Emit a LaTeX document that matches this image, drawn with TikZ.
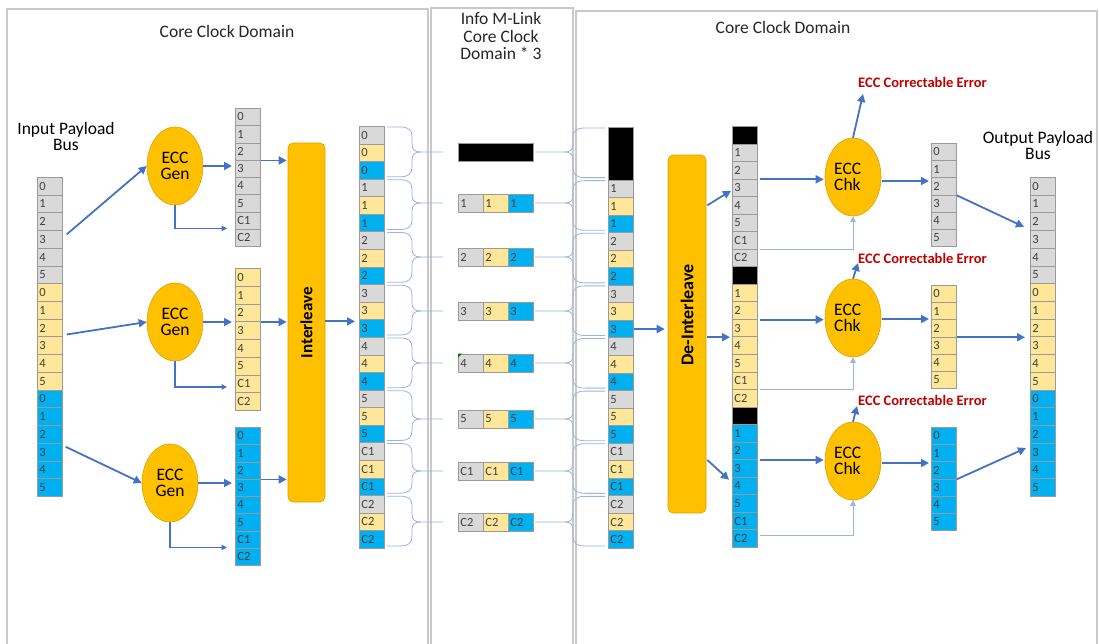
\documentclass[tikz,border=0pt]{standalone}
\usepackage{fontspec}
\setmainfont{Carlito}
\usetikzlibrary{arrows.meta,shapes.geometric,calc}
\definecolor{cgray}{HTML}{D9D9D9}
\definecolor{cyel}{HTML}{FFE699}
\definecolor{cblue}{HTML}{00B0F0}
\definecolor{cborder}{HTML}{9A9A9A}
\definecolor{ctext}{HTML}{404040}
\definecolor{corange}{HTML}{FFC000}
\definecolor{corangeb}{HTML}{D9A300}
\definecolor{ablue}{HTML}{4472C4}
\definecolor{lblue}{HTML}{9DB4E0}
\definecolor{ered}{HTML}{C00000}
\definecolor{panel}{HTML}{C9C9C9}
\newcommand{\fs}[1]{\fontsize{#1}{#1}\selectfont}
\begin{document}
\begin{tikzpicture}[x=1pt,y=-1pt,
  cellb/.style={draw=cborder, line width=0.7pt, minimum width=25pt, text width=21pt, align=left, inner xsep=2pt, inner ysep=0pt, anchor=north west, font=\fs{12.5}, text=ctext},
  gy/.style={fill=cgray}, yl/.style={fill=cyel}, bl/.style={fill=cblue}, bk/.style={fill=black},
  arr/.style={draw=ablue, line width=1.8pt, -{Triangle[length=8pt,width=8pt]}},
  tarr/.style={draw=ablue, line width=1.1pt, -{Triangle[length=5.5pt,width=5.5pt]}},
  larr/.style={draw=lblue, line width=1pt, -{Triangle[length=5.5pt,width=5.5pt]}},
  lbrace/.style={draw=lblue, line width=0.8pt},
  ecc/.style={ellipse, fill=corange, draw=corangeb, line width=0.6pt, minimum width=56pt, minimum height=78pt, inner sep=0pt, font=\fontsize{17.5}{16}\selectfont, align=center},
  orbar/.style={rounded corners=5pt, fill=corange, draw=corangeb, line width=0.6pt, inner sep=0pt},
  lbl/.style={font=\fontsize{17.5}{16}\selectfont, align=center, inner sep=0pt},
  hdr/.style={font=\fontsize{17.5}{17.5}\selectfont, align=center, inner sep=0pt, text=black!85},
  err/.style={font=\bfseries\fs{14.5}, text=ered, anchor=west, inner sep=0pt},
  panelb/.style={draw=panel, line width=2pt}
]
\useasboundingbox[fill=white] (0,0) rectangle (1099,643);

% panels
\draw[panelb] (7,650) -- (7,9) -- (428,9) -- (428,650);
\draw[panelb] (431,650) -- (431,8) -- (573,8) -- (573,650);
\draw[panelb] (576,650) -- (576,11) -- (1097,11) -- (1097,650);

% headers
\node[hdr] (h1) at (227,31) {Core Clock Domain};
\node[hdr] (h2) at (501,36) {Info M-Link\\Core Clock\\Domain * 3};
\node[hdr] (h3) at (783,27) {Core Clock Domain};
\node[lbl] (inl) at (66,136) {Input Payload\\Bus};
\node[lbl] (outl) at (1038,145) {Output Payload\\Bus};

% input bus and output bus
\foreach \sty [count=\k from 0] in {gy,yl,bl} {
  \foreach \lab [count=\j from 1] in {0,1,2,3,4,5} {
    \pgfmathtruncatemacro\idx{\k*6+\j}
    \node[cellb,\sty,minimum height=17.72pt] (in-\idx) at (37,{177+(\idx-1)*17.72}) {\lab};
    \node[cellb,\sty,minimum height=17.72pt] (out-\idx) at (1030,{177+(\idx-1)*17.72}) {\lab};
  }
}

% ECC generator columns
\foreach \sty/\y/\h [count=\k] in {gy/108/17.25,yl/268/17.75,bl/427/17.25} {
  \foreach \lab [count=\j] in {0,1,2,3,4,5,C1,C2}
    \node[cellb,\sty,minimum height=\h pt] (g\k-\j) at (235,{\y+(\j-1)*\h}) {\lab};
}

% output small columns
\foreach \sty/\y [count=\k] in {gy/143,yl/285,bl/427} {
  \foreach \lab [count=\j] in {0,1,2,3,4,5}
    \node[cellb,\sty,minimum height=17.2pt] (o\k-\j) at (931,{\y+(\j-1)*17.2}) {\lab};
}

% interleaved column
\foreach \lab [count=\k from 0] in {0,1,2,3,4,5,C1,C2} {
  \foreach \sty [count=\j from 1] in {gy,yl,bl} {
    \pgfmathtruncatemacro\idx{\k*3+\j}
    \node[cellb,\sty,minimum height=17.58pt] (ic-\idx) at (359,{126+(\idx-1)*17.58}) {\lab};
  }
}

% received column
\node[cellb,bk,minimum height=52.62pt] (rc-0) at (608,127) {};
\foreach \lab [count=\k from 0] in {1,2,3,4,5,C1,C2} {
  \foreach \sty [count=\j from 1] in {gy,yl,bl} {
    \pgfmathtruncatemacro\idx{\k*3+\j}
    \node[cellb,\sty,minimum height=17.54pt] (rc-\idx) at (608,{127+(\idx+2)*17.54}) {\lab};
  }
}

% de-interleaved column
\foreach \sty [count=\k from 0] in {gy,yl,bl} {
  \pgfmathtruncatemacro\idb{\k*8+1}
  \node[cellb,bk,minimum height=17.54pt] (dc-\idb) at (732,{126+(\idb-1)*17.54}) {};
  \foreach \lab [count=\j from 2] in {1,2,3,4,5,C1,C2} {
    \pgfmathtruncatemacro\idx{\k*8+\j}
    \node[cellb,\sty,minimum height=17.54pt] (dc-\idx) at (732,{126+(\idx-1)*17.54}) {\lab};
  }
}

% link rows
\node[fill=black, draw=cborder, line width=0.7pt, minimum width=75pt, minimum height=18pt, inner sep=0pt] (blackbar) at (495.5,152) {};
\foreach \lab/\m [count=\g] in {1/203,2/257,3/311,4/363,5/419,C1/471,C2/522} {
  \node[cellb,gy,minimum height=18pt,anchor=west] (m\g-1) at (458,\m) {\lab};
  \node[cellb,yl,minimum height=18pt,anchor=west] (m\g-2) at (483,\m) {\lab};
  \node[cellb,bl,minimum height=18pt,anchor=west] (m\g-3) at (508,\m) {\lab};
}
\fill[green!45!black] (m4-1.north west) -- ++(4,0) -- ++(-4,4) -- cycle;

% braces
\foreach \g/\m in {0/152,1/203,2/257,3/311,4/363,5/419,6/471,7/522} {
  \pgfmathsetmacro\yt{126+\g*52.74+1}
  \pgfmathsetmacro\yb{126+(\g+1)*52.74-2}
  \draw[lbrace] (387,\yt) -- (400,\yt) .. controls (409,\yt) and (412,\yt+3) .. (412,\yt+10) -- (412,\m-8) .. controls (412,\m-2) and (415,\m) .. (421,\m) -- (443,\m);
  \draw[lbrace] (387,\yb) -- (400,\yb) .. controls (409,\yb) and (412,\yb-3) .. (412,\yb-10) -- (412,\m+8) .. controls (412,\m+2) and (415,\m) .. (421,\m);
  \pgfmathsetmacro\rt{127+\g*52.62+1}
  \pgfmathsetmacro\rb{127+(\g+1)*52.62-2}
  \draw[lbrace] (535,\m) -- (565,\m) .. controls (570,\m) and (573,\m-2) .. (573,\m-8) -- (573,\rt+10) .. controls (573,\rt+3) and (576,\rt) .. (585,\rt) -- (605,\rt);
  \draw[lbrace] (565,\m) .. controls (570,\m) and (573,\m+2) .. (573,\m+8) -- (573,\rb-10) .. controls (573,\rb-3) and (576,\rb) .. (585,\rb) -- (605,\rb);
}

% ECC gen ellipses
\node[ecc] (gen1) at (175,166) {ECC\\Gen};
\node[ecc] (gen2) at (175,322) {ECC\\Gen};
\node[ecc] (gen3) at (170,483) {ECC\\Gen};

% interleave blocks
\node[orbar, minimum width=37pt, minimum height=359pt] (il) at (306.5,322.5) {};
\node[rotate=90, font=\bfseries\fs{17}, inner sep=0pt] (ilt) at (il.center) {Interleave};
\node[orbar, minimum width=38pt, minimum height=358pt] (dil) at (687,334) {};
\node[rotate=90, font=\bfseries\fs{18}, inner sep=0pt] (dilt) at (687,315) {De-Interleave};

% ECC check ellipses
\foreach \y [count=\k] in {177,318,461} {
  \node[ecc] (chk\k) at (853,\y) {};
  \node[lbl, align=left, anchor=west] (chk\k t) at (834,\y) {ECC\\Chk};
}
\node[err] (err1) at (858,82) {ECC Correctable Error};
\node[err] (err2) at (858,258) {ECC Correctable Error};
\node[err] (err3) at (858,400) {ECC Correctable Error};

% arrows: input side
\draw[arr] ($(in-4.east)+(4,-5)$) -- (gen1.west);
\draw[arr] ($(in-10.north east)+(4,-2)$) -- (gen2.west);
\draw[arr] ($(in-16.north east)+(3,4)$) -- (gen3.west);
\draw[arr, shorten >=3pt] (gen1.east) -- (gen1.east -| g1-1.west);
\draw[arr, shorten >=3pt] (gen2.east) -- (gen2.east -| g2-1.west);
\draw[arr, shorten >=3pt] (gen3.east) -- (gen3.east -| g3-1.west);
\draw[tarr, shorten >=8pt] (gen1.south) |- ($(g1-7.south west)+(0,-1)$);
\draw[tarr, shorten >=8pt] (gen2.south) |- ($(g2-7.south west)+(0,-6)$);
\draw[tarr, shorten >=8pt] (gen3.south) |- ($(g3-7.south west)+(0,-1)$);
\draw[arr, shorten >=1pt] (g1-3.south east) -- (g1-3.south east -| il.west);
\draw[arr, shorten >=1pt] (g2-3.south east) -- (g2-3.south east -| il.west);
\draw[arr, shorten >=1pt] (g3-3.south east) -- (g3-3.south east -| il.west);
\draw[arr] ($(il.east |- ic-12.north west)+(0,2)$) -- ($(ic-12.north west)+(-4,2)$);

% arrows: receive side
\draw[arr, shorten >=3pt] (rc-9.east) -- (rc-9.east -| dil.west);
\draw[arr] ($(dil.east |- dc-5.center)+(1,0)$) -- ($(dc-4.west)+(-1,3)$);
\draw[arr] ($(dil.east |- dc-12.south)+(1,0)$) -- ($(dc-12.south west)+(-2,0)$);
\draw[arr] ($(dil.east |- dc-19.south)+(1,0)$) -- ($(dc-21.north west)+(-3,3)$);
\draw[arr, shorten >=1pt] ($(dc-3.south east)+(2,0)$) -- (dc-3.south east -| chk1.west);
\draw[arr, shorten >=1pt] ($(dc-11.south east)+(2,0)$) -- (dc-11.south east -| chk2.west);
\draw[arr, shorten >=1pt] ($(dc-19.south east)+(2,0)$) -- (dc-19.south east -| chk3.west);
\draw[larr] ($(dc-7.south east)+(2,0)$) -| (chk1.south);
\draw[larr] ($(dc-15.south east)+(2,0)$) -| (chk2.south);
\draw[larr] ($(dc-23.south east)+(2,5)$) -| (chk3.south);
\draw[arr] (chk1.north) -- ($(err1.west)+(5,12)$);
\draw[arr] (chk2.north) -- ($(err2.west)+(0,5)$);
\draw[arr] (chk3.north) -- ($(err3.west)+(-1,6)$);
\draw[arr] ($(chk1.east)+(1,4)$) -- ($(o1-1.west |- chk1.east)+(-2,4)$);
\draw[arr] ($(chk2.east)+(1,1)$) -- ($(o2-1.west |- chk2.east)+(-2,1)$);
\draw[arr] ($(chk3.east)+(1,2)$) -- ($(o3-1.west |- chk3.east)+(-2,2)$);
\draw[arr] (o1-3.south east) -- ($(out-3.south west)+(-6,-4)$);
\draw[arr] (o2-3.south east) -- ($(o2-3.south east -| out-1.west)+(-5,0)$);
\draw[arr] (o3-3.south east) -- ($(out-16.west)+(-4,-4)$);
\end{tikzpicture}
\end{document}
